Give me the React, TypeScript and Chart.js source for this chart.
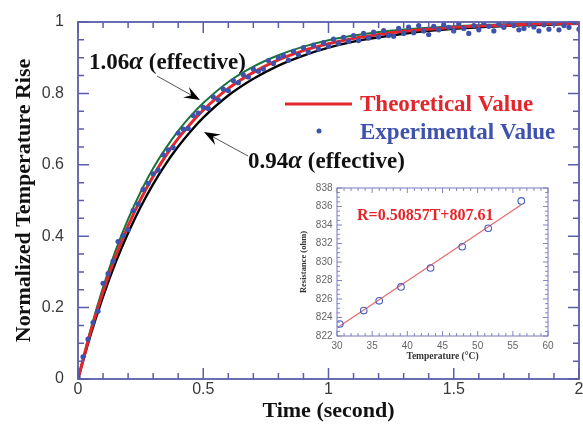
import React, { useEffect, useRef } from "react";
import { Chart, registerables } from "chart.js";

Chart.register(...registerables);

// ---------- main chart data ----------
const curveTime = [0, 0.05, 0.1, 0.15, 0.2, 0.25, 0.3, 0.35, 0.4, 0.45, 0.5, 0.6, 0.7, 0.8, 0.9, 1.0, 1.1, 1.2, 1.3, 1.4, 1.5, 1.6, 1.7, 1.8, 1.9, 2.0];
const theoretical = [0, 0.131, 0.244, 0.343, 0.429, 0.503, 0.568, 0.625, 0.674, 0.716, 0.753, 0.814, 0.859, 0.894, 0.92, 0.939, 0.954, 0.965, 0.974, 0.98, 0.985, 0.989, 0.991, 0.994, 0.995, 0.996];
const alphaHigh = [0, 0.138, 0.257, 0.36, 0.448, 0.524, 0.59, 0.646, 0.695, 0.737, 0.773, 0.832, 0.875, 0.907, 0.931, 0.949, 0.962, 0.972, 0.979, 0.984, 0.988, 0.991, 0.994, 0.995, 0.996, 0.997];
const alphaLow = [0, 0.123, 0.231, 0.326, 0.409, 0.482, 0.546, 0.602, 0.651, 0.694, 0.732, 0.794, 0.841, 0.878, 0.906, 0.928, 0.945, 0.957, 0.967, 0.975, 0.981, 0.985, 0.989, 0.991, 0.993, 0.995];

const expTime = [
  0, 0.02, 0.04, 0.06, 0.08, 0.1, 0.12, 0.14, 0.16, 0.18,
  0.2, 0.22, 0.24, 0.26, 0.28, 0.3, 0.32, 0.34, 0.36, 0.38,
  0.4, 0.42, 0.44, 0.46, 0.48, 0.5, 0.52, 0.54, 0.56, 0.58,
  0.6, 0.62, 0.64, 0.66, 0.68, 0.7, 0.72, 0.74, 0.76, 0.78,
  0.8, 0.82, 0.84, 0.86, 0.88, 0.9, 0.92, 0.94, 0.96, 0.98,
  1.0, 1.02, 1.04, 1.06, 1.08, 1.1, 1.12, 1.14, 1.16, 1.18,
  1.2, 1.22, 1.24, 1.26, 1.28, 1.3, 1.32, 1.34, 1.36, 1.38,
  1.4, 1.42, 1.44, 1.46, 1.48, 1.5, 1.52, 1.54, 1.56, 1.58,
  1.6, 1.62, 1.64, 1.66, 1.68, 1.7, 1.72, 1.74, 1.76, 1.78,
  1.8, 1.82, 1.84, 1.86, 1.88, 1.9, 1.92, 1.94, 1.96, 1.98, 2.0,
];
const expValues = [
  0.005, 0.062, 0.112, 0.158, 0.19, 0.268, 0.295, 0.33, 0.385, 0.402,
  0.418, 0.472, 0.49, 0.531, 0.548, 0.575, 0.585, 0.628, 0.642, 0.648,
  0.689, 0.7, 0.702, 0.738, 0.745, 0.761, 0.758, 0.79, 0.782, 0.812,
  0.808, 0.836, 0.83, 0.852, 0.846, 0.868, 0.862, 0.868, 0.892, 0.884,
  0.9, 0.906, 0.893, 0.918, 0.908, 0.928, 0.915, 0.935, 0.924, 0.942,
  0.932, 0.952, 0.94, 0.957, 0.946, 0.962, 0.948, 0.968, 0.955, 0.972,
  0.958, 0.976, 0.962, 0.96, 0.982, 0.968, 0.986, 0.97, 0.99, 0.975,
  0.965, 0.988, 0.978, 0.992, 0.985, 0.975, 0.996, 0.982, 0.968, 0.99,
  0.978, 0.998, 0.988, 0.975, 0.994, 0.985, 1.0, 0.99, 0.978, 0.982,
  0.998, 0.986, 0.975, 0.992, 0.98, 0.995, 0.978, 0.99, 0.985, 1.0, 0.98,
];

const xAxisTitle = "Time (second)";
const yAxisTitle = "Normalized Temperature Rise";
const legendTheory = "Theoretical Value";
const legendExp = "Experimental Value";

// ---------- inset data ----------
const insetTemp = [30.4, 33.8, 36.0, 39.1, 43.3, 47.8, 51.5, 56.2];
const insetRes = [823.3, 824.75, 825.8, 827.3, 829.35, 831.65, 833.65, 836.6];
const fitTemp = [30.4, 56.2];
const fitRes = [823.07, 836.19];
const insetEquation = "R=0.50857T+807.61";

const RED = "#e3262c";
const GREEN = "#16743a";
const BLUE = "#3e52ad";
const AXIS = "#5a5eaa";

const SERIF = '"Liberation Serif", "Times New Roman", serif';
const SANS = '"Liberation Sans", Arial, sans-serif';

function pts(xs: number[], ys: number[]) {
  return xs.map((x, i) => ({ x, y: ys[i] }));
}

function fmt(v: number) {
  return String(Number(Number(v).toFixed(3)));
}

type FrameOpts = {
  color: string;
  width: number;
  xMinor: number;
  xMajorEvery: number;
  yMinor: number;
  yMajorEvery: number;
  major: number;
  minor: number;
  tickWidth: number;
};

function framePlugin(id: string, o: FrameOpts) {
  return {
    id,
    afterDatasetsDraw(chart: any) {
      const { ctx, chartArea: a, scales } = chart;
      const x = scales.x;
      const y = scales.y;
      ctx.save();
      ctx.strokeStyle = o.color;
      ctx.lineWidth = o.tickWidth;
      const nx = Math.round((x.max - x.min) / o.xMinor);
      for (let i = 0; i <= nx; i++) {
        const px = x.getPixelForValue(x.min + i * o.xMinor);
        const len = i % o.xMajorEvery === 0 ? o.major : o.minor;
        ctx.beginPath();
        ctx.moveTo(px, a.bottom);
        ctx.lineTo(px, a.bottom - len);
        ctx.moveTo(px, a.top);
        ctx.lineTo(px, a.top + len);
        ctx.stroke();
      }
      const ny = Math.round((y.max - y.min) / o.yMinor);
      for (let i = 0; i <= ny; i++) {
        const py = y.getPixelForValue(y.min + i * o.yMinor);
        const len = i % o.yMajorEvery === 0 ? o.major : o.minor;
        ctx.beginPath();
        ctx.moveTo(a.left, py);
        ctx.lineTo(a.left + len, py);
        ctx.moveTo(a.right, py);
        ctx.lineTo(a.right - len, py);
        ctx.stroke();
      }
      ctx.lineWidth = o.width;
      ctx.strokeRect(a.left, a.top, a.right - a.left, a.bottom - a.top);
      ctx.restore();
    },
  };
}

function drawArrow(ctx: CanvasRenderingContext2D, x0: number, y0: number, x1: number, y1: number) {
  const ang = Math.atan2(y1 - y0, x1 - x0);
  const L = 16;
  const W = 6;
  const bx = x1 - Math.cos(ang) * L;
  const by = y1 - Math.sin(ang) * L;
  const nx = -Math.sin(ang);
  const ny = Math.cos(ang);
  ctx.strokeStyle = "#555";
  ctx.lineWidth = 1;
  ctx.beginPath();
  ctx.moveTo(x0, y0);
  ctx.lineTo(x1 - Math.cos(ang) * 8, y1 - Math.sin(ang) * 8);
  ctx.stroke();
  ctx.fillStyle = "#000";
  ctx.beginPath();
  ctx.moveTo(x1, y1);
  ctx.lineTo(bx + nx * W, by + ny * W);
  ctx.lineTo(x1 - Math.cos(ang) * 10, y1 - Math.sin(ang) * 10);
  ctx.lineTo(bx - nx * W, by - ny * W);
  ctx.closePath();
  ctx.fill();
}

function drawAlphaLabel(ctx: CanvasRenderingContext2D, num: string, x: number, y: number) {
  ctx.fillStyle = "#111";
  ctx.textBaseline = "middle";
  ctx.textAlign = "left";
  ctx.font = `bold 23px ${SERIF}`;
  ctx.fillText(num, x, y);
  let cx = x + ctx.measureText(num).width;
  ctx.font = `italic bold 25px ${SERIF}`;
  ctx.fillText("\u03b1", cx, y);
  cx += ctx.measureText("\u03b1").width;
  ctx.font = `bold 23px ${SERIF}`;
  ctx.fillText(" (effective)", cx, y);
}

const annotationPlugin = {
  id: "mainAnnotations",
  afterDraw(chart: any) {
    const ctx: CanvasRenderingContext2D = chart.ctx;
    ctx.save();
    // legend
    ctx.strokeStyle = RED;
    ctx.lineWidth = 3;
    ctx.beginPath();
    ctx.moveTo(285, 104);
    ctx.lineTo(352, 104);
    ctx.stroke();
    ctx.font = `bold 23px ${SERIF}`;
    ctx.textBaseline = "middle";
    ctx.textAlign = "left";
    ctx.fillStyle = RED;
    ctx.fillText(legendTheory, 360, 105);
    ctx.fillStyle = BLUE;
    ctx.beginPath();
    ctx.arc(319, 131, 2.5, 0, Math.PI * 2);
    ctx.fill();
    ctx.fillText(legendExp, 360, 133);
    // annotations
    drawAlphaLabel(ctx, "1.06", 89, 63);
    drawAlphaLabel(ctx, "0.94", 248, 162);
    drawArrow(ctx, 157, 76, 200, 100);
    drawArrow(ctx, 248, 156, 204, 132);
    ctx.restore();
  },
};

const insetTextPlugin = {
  id: "insetText",
  afterDraw(chart: any) {
    const ctx: CanvasRenderingContext2D = chart.ctx;
    ctx.save();
    ctx.font = `bold 16px ${SERIF}`;
    ctx.fillStyle = RED;
    ctx.textBaseline = "middle";
    ctx.textAlign = "left";
    ctx.fillText(insetEquation, 63, 38);
    ctx.restore();
  },
};

export default function App() {
  const mainRef = useRef<HTMLCanvasElement | null>(null);
  const insetRef = useRef<HTMLCanvasElement | null>(null);

  useEffect(() => {
    if (!mainRef.current || !insetRef.current) return;

    const main = new Chart(mainRef.current, {
      type: "scatter",
      data: {
        datasets: [
          {
            label: "Experimental",
            data: pts(expTime, expValues),
            showLine: false,
            pointRadius: 2.6,
            pointBackgroundColor: BLUE,
            pointBorderWidth: 0,
          },
          {
            label: "Theoretical",
            data: pts(curveTime, theoretical),
            showLine: true,
            borderColor: RED,
            borderWidth: 3,
            pointRadius: 0,
            cubicInterpolationMode: "monotone",
          },
          {
            label: "0.94 alpha",
            data: pts(curveTime, alphaLow),
            showLine: true,
            borderColor: "#000",
            borderWidth: 2.4,
            pointRadius: 0,
            cubicInterpolationMode: "monotone",
          },
          {
            label: "1.06 alpha",
            data: pts(curveTime, alphaHigh),
            showLine: true,
            borderColor: GREEN,
            borderWidth: 2,
            pointRadius: 0,
            cubicInterpolationMode: "monotone",
          },
        ],
      } as any,
      options: {
        animation: false,
        responsive: false,
        events: [],
        layout: { padding: { top: 22, right: 3, bottom: 0, left: 0 } },
        plugins: { legend: { display: false }, tooltip: { enabled: false } },
        scales: {
          x: {
            type: "linear",
            min: 0,
            max: 2,
            grid: { display: false, drawTicks: false },
            border: { display: false },
            ticks: {
              stepSize: 0.5,
              padding: 1,
              color: "#3a3a3a",
              font: { family: SANS, size: 16 },
              callback: (v: any) => fmt(v),
            },
            title: {
              display: true,
              text: xAxisTitle,
              color: "#111",
              font: { family: SERIF, size: 22, weight: "bold" },
              padding: { top: 0, bottom: 0 },
            },
            afterFit: (s: any) => {
              s.height = 46;
              s.paddingLeft = 0;
              s.paddingRight = 0;
            },
          },
          y: {
            type: "linear",
            min: 0,
            max: 1,
            grid: { display: false, drawTicks: false },
            border: { display: false },
            ticks: {
              stepSize: 0.2,
              padding: 14,
              color: "#3a3a3a",
              font: { family: SANS, size: 16 },
              callback: (v: any) => fmt(v),
            },
            title: {
              display: true,
              text: yAxisTitle,
              color: "#111",
              font: { family: SERIF, size: 22, weight: "bold" },
              padding: { top: 11, bottom: 0 },
            },
            afterFit: (s: any) => {
              s.width = 78;
              s.paddingTop = 0;
              s.paddingBottom = 0;
            },
          },
        },
      } as any,
      plugins: [
        framePlugin("mainFrame", {
          color: AXIS,
          width: 1.8,
          xMinor: 0.1,
          xMajorEvery: 5,
          yMinor: 0.05,
          yMajorEvery: 4,
          major: 11,
          minor: 6,
          tickWidth: 1.5,
        }),
        annotationPlugin,
      ],
    });

    const inset = new Chart(insetRef.current, {
      type: "scatter",
      data: {
        datasets: [
          {
            label: "Measured",
            data: pts(insetTemp, insetRes),
            showLine: false,
            pointRadius: 3.3,
            pointBackgroundColor: "rgba(255,255,255,0)",
            pointBorderColor: "#4a5cc0",
            pointBorderWidth: 1.1,
          },
          {
            label: "Fit",
            data: pts(fitTemp, fitRes),
            showLine: true,
            borderColor: "#e46a6a",
            borderWidth: 1.2,
            pointRadius: 0,
          },
        ],
      } as any,
      options: {
        animation: false,
        responsive: false,
        events: [],
        layout: { padding: { top: 10, right: 17, bottom: 0, left: 0 } },
        plugins: { legend: { display: false }, tooltip: { enabled: false } },
        scales: {
          x: {
            type: "linear",
            min: 30,
            max: 60,
            grid: { display: false, drawTicks: false },
            border: { display: false },
            ticks: {
              stepSize: 5,
              padding: 4,
              color: "#666",
              font: { family: SANS, size: 10 },
            },
            title: {
              display: true,
              text: "Temperature (\u00b0C)",
              color: "#333",
              font: { family: SERIF, size: 9.5, weight: "bold" },
              padding: { top: 0, bottom: 6 },
            },
            afterFit: (s: any) => {
              s.height = 32;
              s.paddingLeft = 0;
              s.paddingRight = 0;
            },
          },
          y: {
            type: "linear",
            min: 822,
            max: 838,
            grid: { display: false, drawTicks: false },
            border: { display: false },
            ticks: {
              stepSize: 2,
              padding: 4.5,
              color: "#666",
              font: { family: SANS, size: 10 },
            },
            title: {
              display: true,
              text: "Resistance (ohm)",
              color: "#333",
              font: { family: SERIF, size: 8.5, weight: "bold" },
              padding: { top: 4.5, bottom: 0 },
            },
            afterFit: (s: any) => {
              s.width = 43;
              s.paddingTop = 0;
              s.paddingBottom = 0;
            },
          },
        },
      } as any,
      plugins: [
        framePlugin("insetFrame", {
          color: "#7678bd",
          width: 1,
          xMinor: 1,
          xMajorEvery: 5,
          yMinor: 0.5,
          yMajorEvery: 4,
          major: 5,
          minor: 3,
          tickWidth: 0.9,
        }),
        insetTextPlugin,
      ],
    });

    return () => {
      main.destroy();
      inset.destroy();
    };
  }, []);

  return (
    <div style={{ position: "absolute", left: 0, top: 0, width: 583, height: 425, background: "#fff", overflow: "hidden" }}>
      <canvas ref={mainRef} width={583} height={425} style={{ position: "absolute", left: 0, top: 0 }} />
      <canvas ref={insetRef} width={271} height={190} style={{ position: "absolute", left: 294, top: 178 }} />
    </div>
  );
}
